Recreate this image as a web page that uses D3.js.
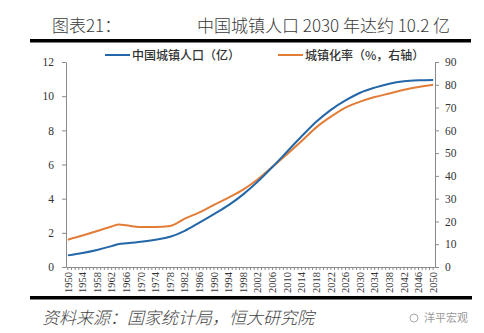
<!DOCTYPE html>
<html>
<head>
<meta charset="utf-8">
<script src="https://cdn.jsdelivr.net/npm/d3@7"></script>
<style>
  body { margin: 0; background: #fff; }
  #chart { width: 484px; height: 333px; }
  text { font-family: 'Liberation Serif', serif; }
  .cjk { font-family: 'Noto Sans CJK SC', sans-serif; }
</style>
</head>
<body>
<div id="chart"></div>
<script>
// years that have a reading (1964 and 1978 are kinks in the lines)
const dataYears = [1950, 1954, 1958, 1962, 1964, 1966, 1970, 1974, 1978, 1982, 1986, 1990, 1994, 1998,
  2002, 2006, 2010, 2014, 2018, 2022, 2026, 2030, 2034, 2038, 2042, 2046, 2050];
// 中国城镇人口（亿）
const urbanPop = [0.68, 0.82, 1.0, 1.22, 1.35, 1.39, 1.48, 1.60, 1.77, 2.12, 2.6, 3.1, 3.62, 4.25,
  5.0, 5.85, 6.75, 7.65, 8.5, 9.2, 9.75, 10.2, 10.5, 10.73, 10.87, 10.93, 10.95];
// 城镇化率（%，右轴）
const urbanRate = [12.0, 13.8, 15.8, 17.8, 18.7, 18.3, 17.6, 17.6, 18.0, 21.2, 24.0, 27.3, 30.5, 34.0,
  38.5, 44.0, 49.5, 55.3, 61.3, 66.0, 70.0, 72.6, 74.6, 76.2, 77.8, 79.0, 80.0];

const leftTicks = [0, 2, 4, 6, 8, 10, 12];
const rightTicks = [0, 10, 20, 30, 40, 50, 60, 70, 80, 90];
const axisYears = d3.range(1950, 2051);

const blue = '#2467a8';
const orange = '#e27d38';
const axisColor = '#8a8a8a';

const width = 484, height = 333;
const margin = { top: 62, right: 49, bottom: 66, left: 66 };
const graphWidth = width - margin.left - margin.right;
const graphHeight = height - margin.top - margin.bottom;

const svg = d3.select('#chart').append('svg')
  .attr('width', width)
  .attr('height', height);

// title + rules
svg.append('text').attr('class', 'cjk')
  .attr('x', 52).attr('y', 32)
  .attr('font-size', 17).attr('font-weight', 300).attr('fill', '#3a3a3a')
  .text('图表21：');
svg.append('text').attr('class', 'cjk')
  .attr('x', 450).attr('y', 32)
  .attr('text-anchor', 'end')
  .attr('font-size', 17).attr('font-weight', 300).attr('fill', '#3a3a3a')
  .text('中国城镇人口 2030 年达约 10.2 亿');
svg.append('rect').attr('x', 30).attr('y', 39).attr('width', 441).attr('height', 3.5).attr('fill', '#000');
svg.append('rect').attr('x', 30).attr('y', 296).attr('width', 442).attr('height', 3.5).attr('fill', '#000');

svg.append('text').attr('class', 'cjk')
  .attr('x', 42).attr('y', 324)
  .attr('font-size', 17).attr('font-weight', 300).attr('font-style', 'italic').attr('fill', '#444')
  .text('资料来源：国家统计局，恒大研究院');
svg.append('circle').attr('cx', 414).attr('cy', 318).attr('r', 4)
  .attr('fill', 'none').attr('stroke', '#aaa').attr('stroke-width', 1);
svg.append('text').attr('class', 'cjk')
  .attr('x', 424).attr('y', 322)
  .attr('font-size', 11).attr('fill', '#999')
  .text('洋平宏观');

const graph = svg.append('g')
  .attr('transform', `translate(${margin.left}, ${margin.top})`);

// scales
const x = d3.scaleBand().domain(axisYears).range([0, graphWidth]);
const yLeft = d3.scaleLinear().domain([0, 12]).range([graphHeight, 0]);
const yRight = d3.scaleLinear().domain([0, 90]).range([graphHeight, 0]);
const cx = yr => x(yr) + x.bandwidth() / 2;

// axes
const xAxis = d3.axisBottom(x)
  .tickSizeInner(3).tickSizeOuter(0)
  .tickFormat(d => (d - 1950) % 4 === 0 ? d : '');
const xAxisGroup = graph.append('g')
  .attr('transform', `translate(0, ${graphHeight})`)
  .call(xAxis);
xAxisGroup.selectAll('text')
  .attr('transform', 'rotate(-90)')
  .attr('x', -5).attr('y', 0).attr('dy', '0.35em')
  .attr('text-anchor', 'end')
  .attr('font-size', 10.5).attr('fill', '#333');

const yAxisGroup = graph.append('g')
  .call(d3.axisLeft(yLeft).tickValues(leftTicks).tickSizeInner(4).tickSizeOuter(0).tickPadding(8));
yAxisGroup.selectAll('text').attr('font-size', 11.5).attr('fill', '#333');

const yAxisRightGroup = graph.append('g')
  .attr('transform', `translate(${graphWidth}, 0)`)
  .call(d3.axisRight(yRight).tickValues(rightTicks).tickSizeInner(4).tickSizeOuter(0).tickPadding(6));
yAxisRightGroup.selectAll('text').attr('font-size', 11.5).attr('fill', '#333');

graph.selectAll('.domain, .tick line').attr('stroke', axisColor);
graph.selectAll('text').style('font-family', "'Liberation Serif', serif");

// lines
const popLine = d3.line()
  .x((d, i) => cx(dataYears[i]))
  .y(d => yLeft(d))
  .curve(d3.curveMonotoneX);
const rateLine = d3.line()
  .x((d, i) => cx(dataYears[i]))
  .y(d => yRight(d))
  .curve(d3.curveMonotoneX);

graph.append('path').datum(urbanRate)
  .attr('d', rateLine)
  .attr('fill', 'none').attr('stroke', orange).attr('stroke-width', 2);
graph.append('path').datum(urbanPop)
  .attr('d', popLine)
  .attr('fill', 'none').attr('stroke', blue).attr('stroke-width', 2);

// legend
const legend = [
  { label: '中国城镇人口（亿）', color: blue, x: 105 },
  { label: '城镇化率（%，右轴）', color: orange, x: 278 }
];
legend.forEach(l => {
  svg.append('line')
    .attr('x1', l.x).attr('x2', l.x + 25)
    .attr('y1', 55).attr('y2', 55)
    .attr('stroke', l.color).attr('stroke-width', 2);
  svg.append('text').attr('class', 'cjk')
    .attr('x', l.x + 27).attr('y', 59.5)
    .attr('font-size', 12).attr('font-weight', 500).attr('fill', '#333')
    .text(l.label);
});
</script>
</body>
</html>
